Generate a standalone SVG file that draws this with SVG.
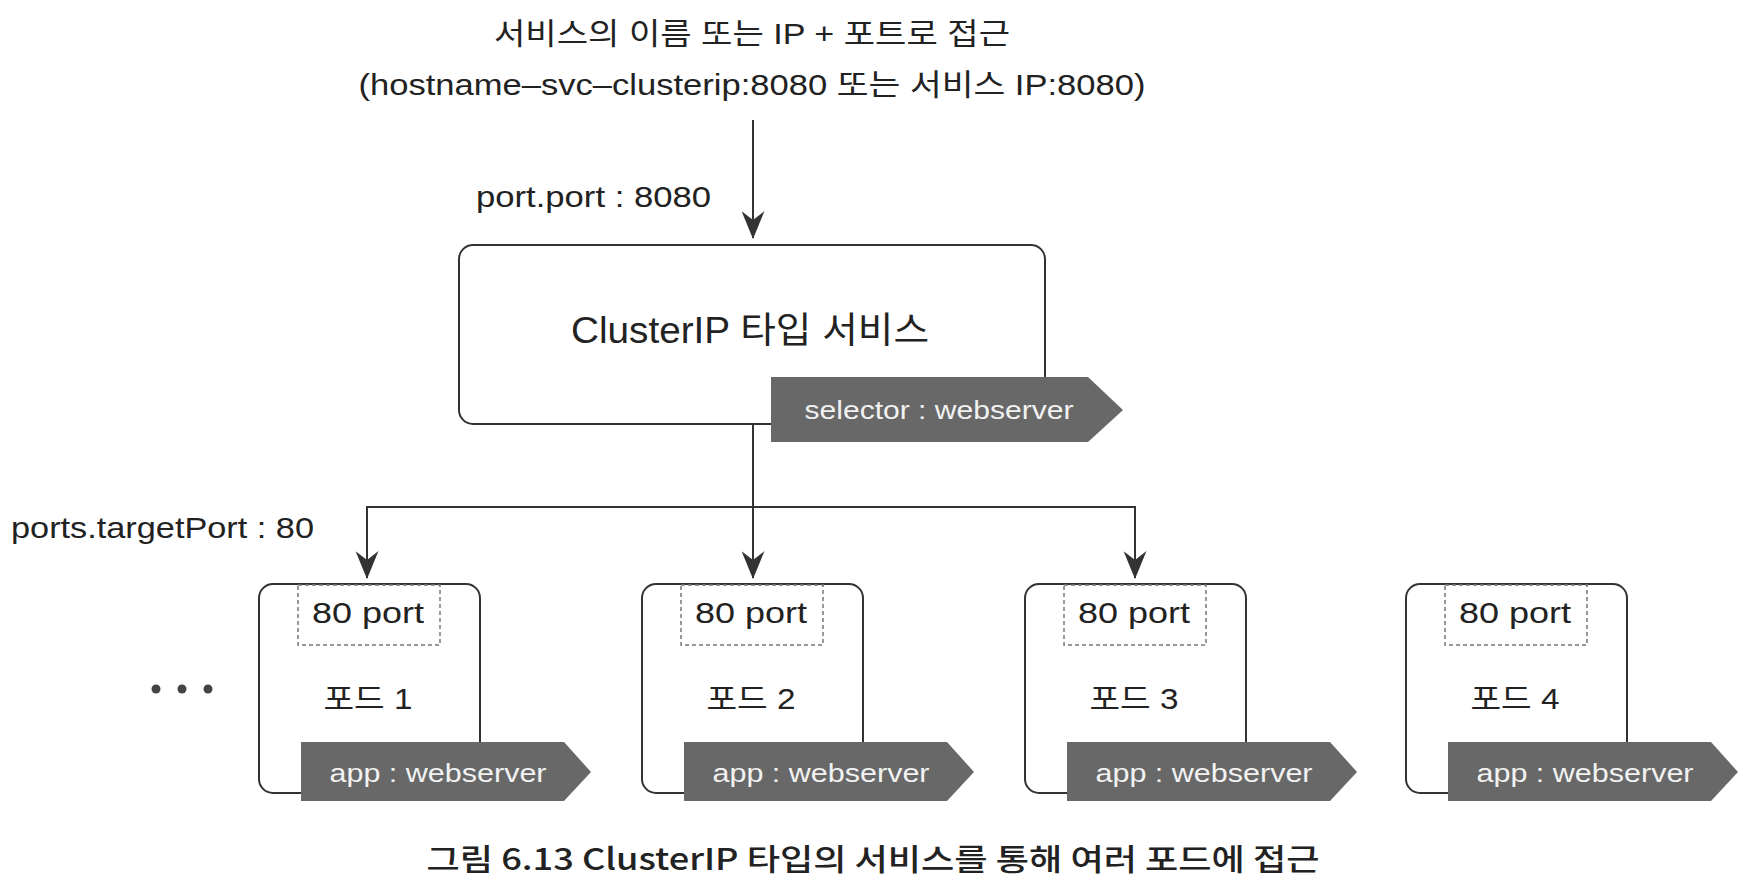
<svg xmlns="http://www.w3.org/2000/svg" width="1750" height="896" viewBox="0 0 1750 896">
<defs>
<style>
text{font-family:"Liberation Sans","Noto Sans CJK KR",sans-serif;fill:#222;}
.t{font-size:30px;text-anchor:middle;}
.lbl{font-size:30px;}
.box{fill:#fff;stroke:#333;stroke-width:2;}
.port{fill:none;stroke:#777;stroke-width:1.5;stroke-dasharray:4 3;}
.tag{fill:#686868;}
.tagt{font-size:26px;fill:#f2f2f2;text-anchor:middle;}
.pt{font-size:30px;text-anchor:middle;}
.conn{fill:none;stroke:#333;stroke-width:2;}
</style>
<marker id="arrd" markerWidth="28" markerHeight="23" refX="27" refY="11.5" orient="auto" markerUnits="userSpaceOnUse" viewBox="0 0 28 23">
<path d="M0,0 L9,11.5 L0,23 L28,11.5 Z" fill="#333"/>
</marker>
</defs>
<rect width="1750" height="896" fill="#fff"/>

<g id="header">
<text class="t" x="752" y="44" textLength="516" lengthAdjust="spacingAndGlyphs">서비스의 이름 또는 IP + 포트로 접근</text>
<text class="t" x="752" y="95" textLength="787" lengthAdjust="spacingAndGlyphs">(hostname–svc–clusterip:8080 또는 서비스 IP:8080)</text>
</g>

<g id="connectors">
<line class="conn" x1="753" y1="120" x2="753" y2="238" marker-end="url(#arrd)"/>
<line class="conn" x1="753" y1="424" x2="753" y2="578" marker-end="url(#arrd)"/>
<line class="conn" x1="367" y1="507" x2="1135" y2="507"/>
<line class="conn" x1="367" y1="506" x2="367" y2="578" marker-end="url(#arrd)"/>
<line class="conn" x1="1135" y1="506" x2="1135" y2="578" marker-end="url(#arrd)"/>
<text class="lbl" x="476" y="207" textLength="235" lengthAdjust="spacingAndGlyphs">port.port : 8080</text>
<text class="lbl" x="11" y="538" textLength="303" lengthAdjust="spacingAndGlyphs">ports.targetPort : 80</text>
</g>

<g id="service">
<rect class="box" x="459" y="245" width="586" height="179" rx="14"/>
<text x="750" y="343" font-size="36" text-anchor="middle" textLength="358" lengthAdjust="spacingAndGlyphs">ClusterIP 타입 서비스</text>
<polygon class="tag" points="771,377 1088,377 1123,410 1088,442 771,442"/>
<text class="tagt" x="939" y="419" textLength="269" lengthAdjust="spacingAndGlyphs">selector : webserver</text>
</g>

<g id="dots" fill="#444">
<circle cx="156" cy="689" r="4.5"/>
<circle cx="182" cy="689" r="4.5"/>
<circle cx="208" cy="689" r="4.5"/>
</g>

<g id="pod1" transform="translate(259,0)">
<rect class="box" x="0" y="584" width="221" height="209" rx="14"/>
<rect class="port" x="39" y="585" width="142" height="60"/>
<text class="pt" x="109" y="623" textLength="112" lengthAdjust="spacingAndGlyphs">80 port</text>
<text class="pt" x="109" y="709" font-size="28" textLength="89" lengthAdjust="spacingAndGlyphs">포드 1</text>
<polygon class="tag" points="42,742 305,742 332,772 305,801 42,801"/>
<text class="tagt" x="179" y="782" textLength="217" lengthAdjust="spacingAndGlyphs">app : webserver</text>
</g>
<g id="pod2" transform="translate(642,0)">
<rect class="box" x="0" y="584" width="221" height="209" rx="14"/>
<rect class="port" x="39" y="585" width="142" height="60"/>
<text class="pt" x="109" y="623" textLength="112" lengthAdjust="spacingAndGlyphs">80 port</text>
<text class="pt" x="109" y="709" font-size="28" textLength="89" lengthAdjust="spacingAndGlyphs">포드 2</text>
<polygon class="tag" points="42,742 305,742 332,772 305,801 42,801"/>
<text class="tagt" x="179" y="782" textLength="217" lengthAdjust="spacingAndGlyphs">app : webserver</text>
</g>
<g id="pod3" transform="translate(1025,0)">
<rect class="box" x="0" y="584" width="221" height="209" rx="14"/>
<rect class="port" x="39" y="585" width="142" height="60"/>
<text class="pt" x="109" y="623" textLength="112" lengthAdjust="spacingAndGlyphs">80 port</text>
<text class="pt" x="109" y="709" font-size="28" textLength="89" lengthAdjust="spacingAndGlyphs">포드 3</text>
<polygon class="tag" points="42,742 305,742 332,772 305,801 42,801"/>
<text class="tagt" x="179" y="782" textLength="217" lengthAdjust="spacingAndGlyphs">app : webserver</text>
</g>
<g id="pod4" transform="translate(1406,0)">
<rect class="box" x="0" y="584" width="221" height="209" rx="14"/>
<rect class="port" x="39" y="585" width="142" height="60"/>
<text class="pt" x="109" y="623" textLength="112" lengthAdjust="spacingAndGlyphs">80 port</text>
<text class="pt" x="109" y="709" font-size="28" textLength="89" lengthAdjust="spacingAndGlyphs">포드 4</text>
<polygon class="tag" points="42,742 305,742 332,772 305,801 42,801"/>
<text class="tagt" x="179" y="782" textLength="217" lengthAdjust="spacingAndGlyphs">app : webserver</text>
</g>

<g id="caption">
<text x="873" y="870" font-size="30" font-weight="500" text-anchor="middle" fill="#333" style="font-family:'Noto Sans CJK KR',sans-serif" textLength="893" lengthAdjust="spacingAndGlyphs">그림 6.13 ClusterIP 타입의 서비스를 통해 여러 포드에 접근</text>
</g>
</svg>
